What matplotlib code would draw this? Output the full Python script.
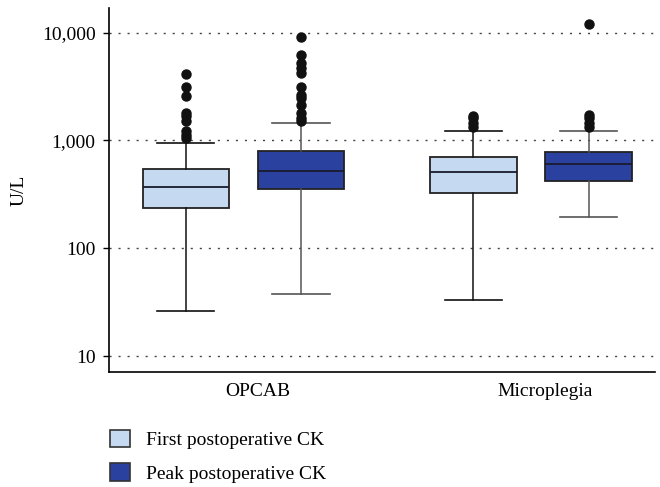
import matplotlib
matplotlib.use("Agg")
import matplotlib.pyplot as plt
from matplotlib.patches import Patch
from matplotlib.ticker import FixedLocator, NullLocator

categories = ["OPCAB", "Microplegia"]
series = ["First postoperative CK", "Peak postoperative CK"]
colors = ["#c5d9f1", "#2b41a0"]

# box stats: [whislo, q1, med, q3, whishi], fliers
first_stats = [
    [26, 237, 366, 546, 938],
    [33, 325, 515, 701, 1213],
]
first_fliers = [
    [4130, 3100, 2600, 1795, 1670, 1500, 1230, 1130, 1050],
    [1700, 1600, 1450, 1320],
]
peak_stats = [
    [38, 351, 520, 790, 1460],
    [193, 416, 599, 780, 1213],
]
peak_fliers = [
    [9180, 6150, 5240, 4700, 4230, 3100, 2650, 2480, 2140, 1800, 1615, 1500],
    [12130, 1720, 1600, 1450, 1320],
]
yticks = [10, 100, 1000, 10000]
ytick_labels = ["10", "100", "1,000", "10,000"]

plt.rcParams['font.family'] = ['Liberation Serif', 'DejaVu Serif']
fig = plt.figure(figsize=(6.6, 4.87), dpi=100)
ax = fig.add_axes([0.165, 0.236, 0.827, 0.748])

def mk(stats, fliers):
    out = []
    for s, f in zip(stats, fliers):
        out.append(dict(whislo=s[0], q1=s[1], med=s[2], q3=s[3], whishi=s[4], fliers=f))
    return out

offset = 0.2
for k, (stats, fliers, col, lc) in enumerate([
        (first_stats, first_fliers, colors[0], "#111111"),
        (peak_stats, peak_fliers, colors[1], "#555555")]):
    pos = [i + (k * 2 - 1) * offset for i in range(len(categories))]
    ax.bxp(mk(stats, fliers), positions=pos, widths=0.3, patch_artist=True,
           boxprops=dict(facecolor=col, edgecolor="#222222", linewidth=1.3),
           medianprops=dict(color="#1a1a2e", linewidth=1.3),
           whiskerprops=dict(color=lc, linewidth=1.1),
           capprops=dict(color=lc, linewidth=1.2),
           capwidths=0.2,
           flierprops=dict(marker='o', markerfacecolor="#111111",
                           markeredgecolor="#111111", markersize=6.5),
           zorder=3)

fs = 14
ax.set_yscale('log')
ax.set_ylim(7.1, 17000)
ax.set_xlim(-0.467, 1.43)
ax.yaxis.set_major_locator(FixedLocator(yticks))
ax.yaxis.set_minor_locator(NullLocator())
ax.set_yticklabels(ytick_labels)
ax.set_xticks([0.05, 1.05])
ax.set_xticklabels(categories)
ax.tick_params(axis='x', length=0, labelsize=fs, pad=8)
ax.tick_params(axis='y', length=4.5, width=1, labelsize=fs, pad=5)
ax.grid(axis='y', linestyle=(0, (1.5, 5)), color="#444444", linewidth=1)
ax.set_axisbelow(True)
for sp in ["top", "right"]:
    ax.spines[sp].set_visible(False)
ax.spines["left"].set_linewidth(1.2)
ax.spines["bottom"].set_linewidth(1.2)
ax.set_ylabel("U/L", fontsize=fs, labelpad=10)

handles = [Patch(facecolor=c, edgecolor="#333333", linewidth=1.2) for c in colors]
fig.legend(handles, series, loc='upper left', bbox_to_anchor=(0.155, 0.133),
           frameon=False, fontsize=fs, handlelength=1.0, handleheight=1.0,
           handletextpad=0.85, labelspacing=0.72, borderaxespad=0)

fig.savefig("out.png", dpi=100)
